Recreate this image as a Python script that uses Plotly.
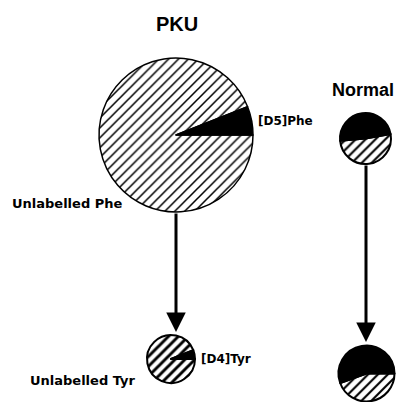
import plotly.graph_objects as go

# ---- data (percent of pool): [unlabelled, labelled] ----
pku_phe_labels = ["Unlabelled Phe", "[D5]Phe"]
pku_phe_values = [94, 6]
pku_tyr_labels = ["Unlabelled Tyr", "[D4]Tyr"]
pku_tyr_values = [94, 6]
normal_phe_values = [51.4, 48.6]
normal_tyr_values = [44.5, 55.5]
group_titles = ["PKU", "Normal"]

W, H = 403, 402


def dom(cx, cy, r):
    return dict(x=[(cx - r) / W, (cx + r) / W], y=[1 - (cy + r) / H, 1 - (cy - r) / H])


def pie(labels, values, cx, cy, r, rotation, solidity, lw):
    return go.Pie(
        labels=labels, values=values, sort=False, direction="clockwise",
        rotation=rotation, textinfo="none", hoverinfo="skip", showlegend=False,
        domain=dom(cx, cy, r),
        marker=dict(colors=["white", "black"],
                    line=dict(color="black", width=lw),
                    pattern=dict(shape=["/", ""], fgcolor="black", bgcolor="white",
                                 size=7, solidity=solidity)),
    )


fig = go.Figure()
fig.add_trace(pie(pku_phe_labels, pku_phe_values, 176, 135, 77, 90, 0.22, 1.5))
fig.add_trace(pie(pku_tyr_labels, pku_tyr_values, 171, 359, 24, 90, 0.42, 2))
fig.add_trace(pie(pku_phe_labels, normal_phe_values, 365.5, 138.5, 25.5, 80, 0.3, 2))
fig.add_trace(pie(pku_tyr_labels, normal_tyr_values, 366.5, 373.5, 28, 90, 0.3, 2))

# invisible axes for placing annotations in pixel space
fig.add_trace(go.Scatter(x=[0, W], y=[0, H], mode="markers", marker=dict(opacity=0),
                         hoverinfo="skip", showlegend=False))

bold = "DejaVu Sans"
ann = []
ann.append(dict(x=177, y=24, text="<b>" + group_titles[0] + "</b>", showarrow=False,
                font=dict(family="Liberation Sans", size=20, color="black")))
ann.append(dict(x=362.5, y=90, text="<b>" + group_titles[1] + "</b>", showarrow=False,
                font=dict(family="Liberation Sans", size=18, color="black")))
ann.append(dict(x=256, y=121, text="<b>" + pku_phe_labels[1] + "</b>", showarrow=False,
                xanchor="left", font=dict(family=bold, size=12, color="black")))
ann.append(dict(x=67.5, y=203, text="<b>" + pku_phe_labels[0] + "</b>", showarrow=False,
                font=dict(family=bold, size=13, color="black")))
ann.append(dict(x=199, y=359, text="<b>" + pku_tyr_labels[1] + "</b>", showarrow=False,
                xanchor="left", font=dict(family=bold, size=12, color="black")))
ann.append(dict(x=82.5, y=380, text="<b>" + pku_tyr_labels[0] + "</b>", showarrow=False,
                font=dict(family=bold, size=13, color="black")))
# arrows
for (x0, y0, y1) in [(176, 212, 332), (366, 164, 342)]:
    ann.append(dict(x=x0, y=y1, ax=x0, ay=y0, xref="x", yref="y", axref="x", ayref="y",
                    text="", showarrow=True, arrowhead=2, arrowsize=1.3, arrowwidth=3,
                    arrowcolor="black", standoff=0))
for a in ann:
    a.setdefault("xref", "x")
    a.setdefault("yref", "y")

fig.update_layout(
    width=W, height=H, margin=dict(l=0, r=0, t=0, b=0),
    paper_bgcolor="white", plot_bgcolor="white",
    xaxis=dict(range=[0, W], visible=False, domain=[0, 1], fixedrange=True),
    yaxis=dict(range=[H, 0], visible=False, domain=[0, 1], fixedrange=True),
    annotations=ann,
)

fig.write_html("out.html", config={"displayModeBar": False},
               post_script="document.body.style.margin='0';document.body.style.overflow='hidden';")
